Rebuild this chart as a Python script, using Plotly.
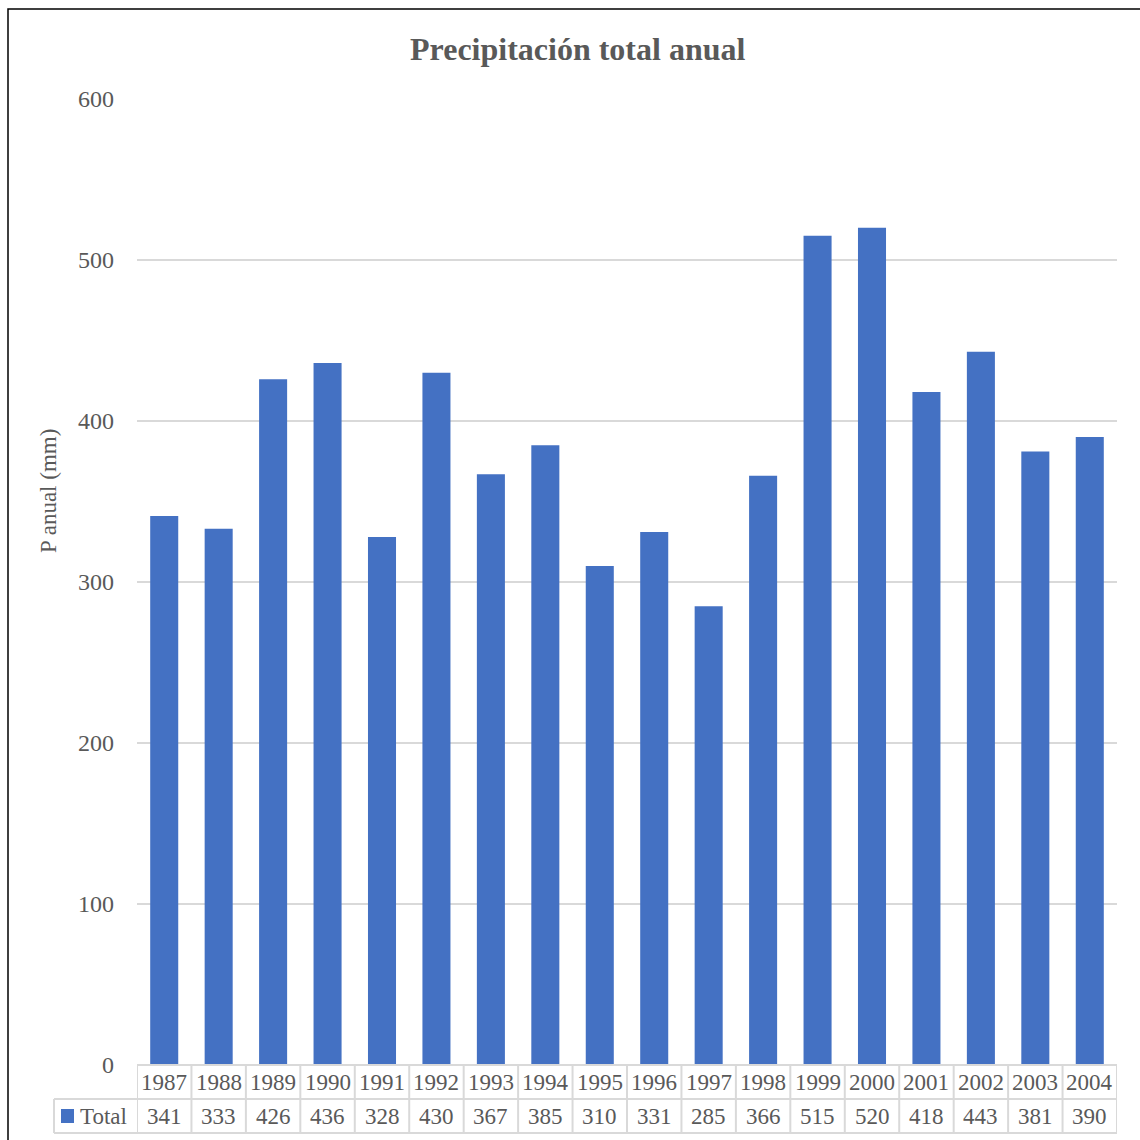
import plotly.graph_objects as go

# Annual precipitation totals (mm)
years = ["1987", "1988", "1989", "1990", "1991", "1992", "1993", "1994", "1995",
         "1996", "1997", "1998", "1999", "2000", "2001", "2002", "2003", "2004"]
totals = [341, 333, 426, 436, 328, 430, 367, 385, 310,
          331, 285, 366, 515, 520, 418, 443, 381, 390]
y_ticks = [0, 100, 200, 300, 400, 500, 600]
series_name = "Total"
chart_title = "Precipitación total anual"
y_title = "P anual (mm)"

FONT = "Liberation Serif, Times New Roman, serif"
TXT = "#595959"
GRID = "#D9D9D9"
BAR = "#4471C3"

W, H = 1140, 1140
L, R, T, B = 137, 23, 99, 75
PW, PH = W - L - R, H - T - B


def px_x(px):
    return (px - L) / PW


def px_y(py):
    return (H - B - py) / PH


fig = go.Figure(go.Bar(
    x=years, y=totals, name=series_name,
    marker=dict(color=BAR, line=dict(width=0)),
    showlegend=False,
))

# data table under the plot: year row and value row
row1_mid, row1_bot, row2_mid, row2_bot = px_y(1082), px_y(1099), px_y(1116), px_y(1133)
left_cell = px_x(54)
n = len(years)
shapes = []
line = dict(color=GRID, width=2)
for i in range(n + 1):
    shapes.append(dict(type="line", xref="x", yref="paper", x0=i - 0.5, x1=i - 0.5,
                       y0=0, y1=row2_bot, line=line, layer="above"))
shapes.append(dict(type="line", xref="x", yref="paper", x0=-0.5, x1=n - 0.5,
                   y0=0, y1=0, line=line))
for yy in (row1_bot, row2_bot):
    shapes.append(dict(type="line", xref="paper", yref="paper", x0=left_cell, x1=1,
                       y0=yy, y1=yy, line=line))
shapes.append(dict(type="line", xref="paper", yref="paper", x0=left_cell, x1=left_cell,
                   y0=row1_bot, y1=row2_bot, line=line))
# legend key square
shapes.append(dict(type="rect", xref="paper", yref="paper",
                   x0=px_x(61), x1=px_x(74), y0=px_y(1123), y1=px_y(1109),
                   fillcolor=BAR, line=dict(width=0)))
# outer chart frame
shapes.append(dict(type="rect", xref="paper", yref="paper",
                   x0=px_x(8), x1=px_x(1152), y0=px_y(1152), y1=px_y(9),
                   line=dict(color="black", width=1.5), fillcolor="rgba(0,0,0,0)"))

cell_font = dict(family=FONT, size=23, color=TXT)
annotations = []
for i, (yr, v) in enumerate(zip(years, totals)):
    annotations.append(dict(x=i, y=row1_mid, xref="x", yref="paper", text=yr,
                            yanchor="middle", showarrow=False, font=cell_font))
    annotations.append(dict(x=i, y=row2_mid, xref="x", yref="paper", text=str(v),
                            yanchor="middle", showarrow=False, font=cell_font))
annotations.append(dict(x=px_x(78), y=row2_mid, xref="paper", yref="paper", text=series_name,
                        xanchor="left", yanchor="middle", showarrow=False, font=cell_font))
annotations.append(dict(x=px_x(48), y=px_y(491), xref="paper", yref="paper", text=y_title,
                        textangle=-90, xanchor="center", yanchor="middle", showarrow=False,
                        font=dict(family=FONT, size=23, color=TXT)))
annotations.append(dict(x=px_x(578), y=px_y(49), xref="paper", yref="paper",
                        text="<b>" + chart_title + "</b>", xanchor="center", yanchor="middle",
                        showarrow=False, font=dict(family=FONT, size=32, color=TXT)))

fig.update_layout(
    width=W, height=H,
    margin=dict(l=L, r=R, t=T, b=B),
    paper_bgcolor="white", plot_bgcolor="white",
    bargap=0.485,
    shapes=shapes, annotations=annotations,
    font=dict(family=FONT, color=TXT),
)
fig.update_xaxes(type="category", range=[-0.5, n - 0.5], showticklabels=False,
                 showgrid=False, showline=False, zeroline=False, ticks="")
fig.update_yaxes(range=[0, 600], tickvals=y_ticks, showgrid=True, gridcolor=GRID,
                 gridwidth=2, zeroline=False, showline=False, ticks="",
                 ticklabelstandoff=22, tickfont=dict(family=FONT, size=24, color=TXT))

fig.write_html("out.html")
